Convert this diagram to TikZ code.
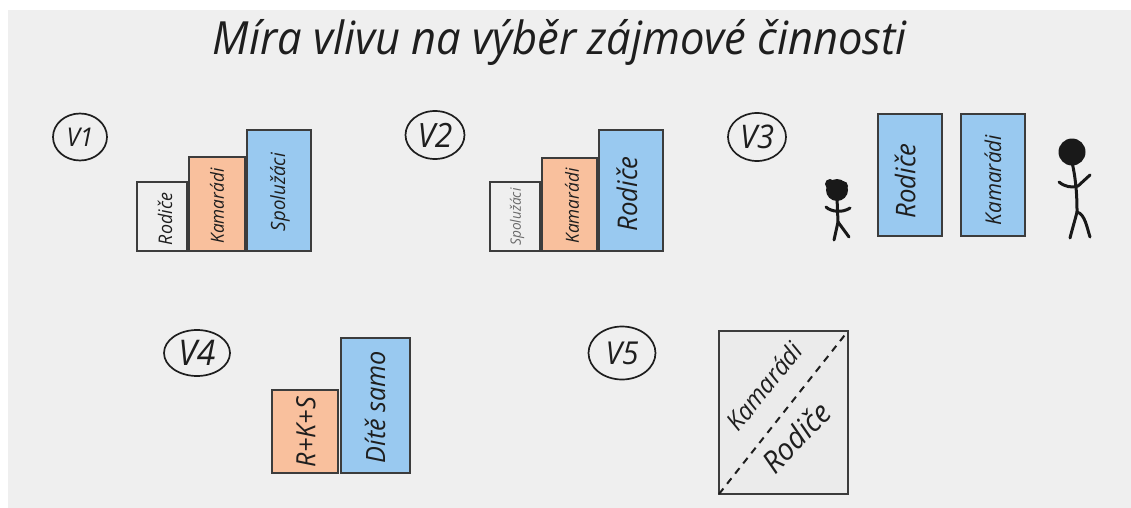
\documentclass[tikz,border=0pt]{standalone}
\usepackage{fontspec}
\usepackage{graphicx}
\setmainfont{Open Sans}
\newfontfamily\handfont{Open Sans}[FakeStretch=0.95]
\usetikzlibrary{shapes.geometric,calc}
\definecolor{pagebg}{HTML}{EFEFEF}
\definecolor{barblue}{HTML}{99C9F0}
\definecolor{barorange}{HTML}{F9C09D}
\definecolor{barline}{HTML}{3C3C3C}
\definecolor{inktext}{HTML}{1E1E1E}
\definecolor{softtext}{HTML}{6A6A6A}
\definecolor{squarefill}{HTML}{EBEBEB}
\newcommand{\fitt}[2]{\resizebox{#1pt}{!}{\handfont\itshape #2}}
\tikzset{
  barbox/.style={draw=barline,line width=2pt,inner sep=0pt,outer sep=0pt},
  lab/.style={inner sep=0pt,outer sep=0pt,text=inktext},
  tag/.style={ellipse,draw=inktext,line width=1.7pt,inner sep=0pt,outer sep=0pt,text=inktext},
  stick/.style={draw=black!90,line width=3pt,line cap=round,line join=round}
}
\newcommand{\barat}[6]{% name, x0, y0, x1, y1, fill
  \path let \n1={#4-#2}, \n2={#5-#3} in
    node[barbox,fill=#6,minimum width=\n1 pt,minimum height=\n2 pt] (#1) at ({(#2+#4)/2},{(#3+#5)/2}) {};}
\begin{document}
\begin{tikzpicture}[x=1pt,y=-1pt]
\useasboundingbox (0,0) rectangle (1131,508);
\fill[white] (0,0) rectangle (1131,508);
\fill[pagebg] (8,10) rectangle (1131,508);

\node[lab] (title) at (560,42) {\fitt{694}{Míra vlivu na výběr zájmové činnosti}};

% tags
\node[tag,minimum width=54pt,minimum height=47pt] (v1) at (80,137) {\fitt{27}{V1}};
\node[tag,minimum width=59pt,minimum height=48pt] (v2) at (435,135) {\fitt{35}{V2}};
\node[tag,minimum width=58pt,minimum height=48pt] (v3) at (757,137) {\fitt{34}{V3}};
\node[tag,minimum width=66pt,minimum height=46pt] (v4) at (197,353) {\fitt{37}{V4}};
\node[tag,minimum width=67pt,minimum height=53pt] (v5) at (622,353) {\fitt{33}{V5}};

% V1
\barat{a1}{137}{182}{187}{251}{pagebg}
\barat{a2}{189}{157}{245}{251}{barorange}
\barat{a3}{247}{130}{311}{251}{barblue}
\node[lab,rotate=90] (a1t) at (165,219) {\fitt{52}{Rodiče}};
\node[lab,rotate=90] (a2t) at (217,206) {\fitt{75}{Kamarádi}};
\node[lab,rotate=90] (a3t) at (280,192) {\fitt{78}{Spolužáci}};

% V2
\barat{b1}{490}{182}{540}{251}{pagebg}
\barat{b2}{542}{158}{597}{251}{barorange}
\barat{b3}{599}{130}{663}{251}{barblue}
\node[lab,rotate=90,text=softtext] (b1t) at (517,217) {\fitt{57}{Spolužáci}};
\node[lab,rotate=90] (b2t) at (572,206) {\fitt{75}{Kamarádi}};
\node[lab,rotate=90] (b3t) at (627,194) {\fitt{75}{Rodiče}};

% V3
\barat{c1}{878}{114}{942}{236}{barblue}
\barat{c2}{961}{114}{1025}{236}{barblue}
\node[lab,rotate=90] (c1t) at (905,181) {\fitt{75}{Rodiče}};
\node[lab,rotate=90] (c2t) at (993,180) {\fitt{90}{Kamarádi}};

% small figure
\fill[black!90] (837,190) circle (11);
\fill[black!90] (830,184) circle (5);
\fill[black!90] (843,186) circle (5);
\draw[stick] (837,198) -- (838,222);
\draw[stick] (826,207) .. controls (831,212) and (843,213) .. (850,208);
\draw[stick] (838,222) -- (834,240);
\draw[stick] (838,222) -- (849,237);

% big figure
\fill[black!90] (1072,152) circle (13.5);
\draw[stick] (1072,162) .. controls (1076,180) and (1077,195) .. (1077,212);
\draw[stick] (1059,182) .. controls (1065,187) and (1072,188) .. (1078,186) -- (1090,175);
\draw[stick] (1077,212) .. controls (1075,220) and (1072,230) .. (1070,238);
\draw[stick] (1077,212) .. controls (1085,214) and (1087,228) .. (1090,237);

% V4
\barat{d1}{272}{390}{338}{473}{barorange}
\barat{d2}{341}{338}{410}{473}{barblue}
\node[lab,rotate=90] (d1t) at (306,432) {\fitt{70}{R+K+S}};
\node[lab,rotate=90] (d2t) at (375,407) {\fitt{112}{Dítě samo}};

% V5
\barat{e}{719}{331}{848}{494}{squarefill}
\draw[draw=inktext,line width=2pt,dash pattern=on 7pt off 6pt] (e.south west) -- (e.north east);
\node[lab,rotate=51] (e1t) at (764,386) {\fitt{104}{Kamarádi}};
\node[lab,rotate=46] (e2t) at (796,437) {\fitt{84}{Rodiče}};
\end{tikzpicture}
\end{document}
